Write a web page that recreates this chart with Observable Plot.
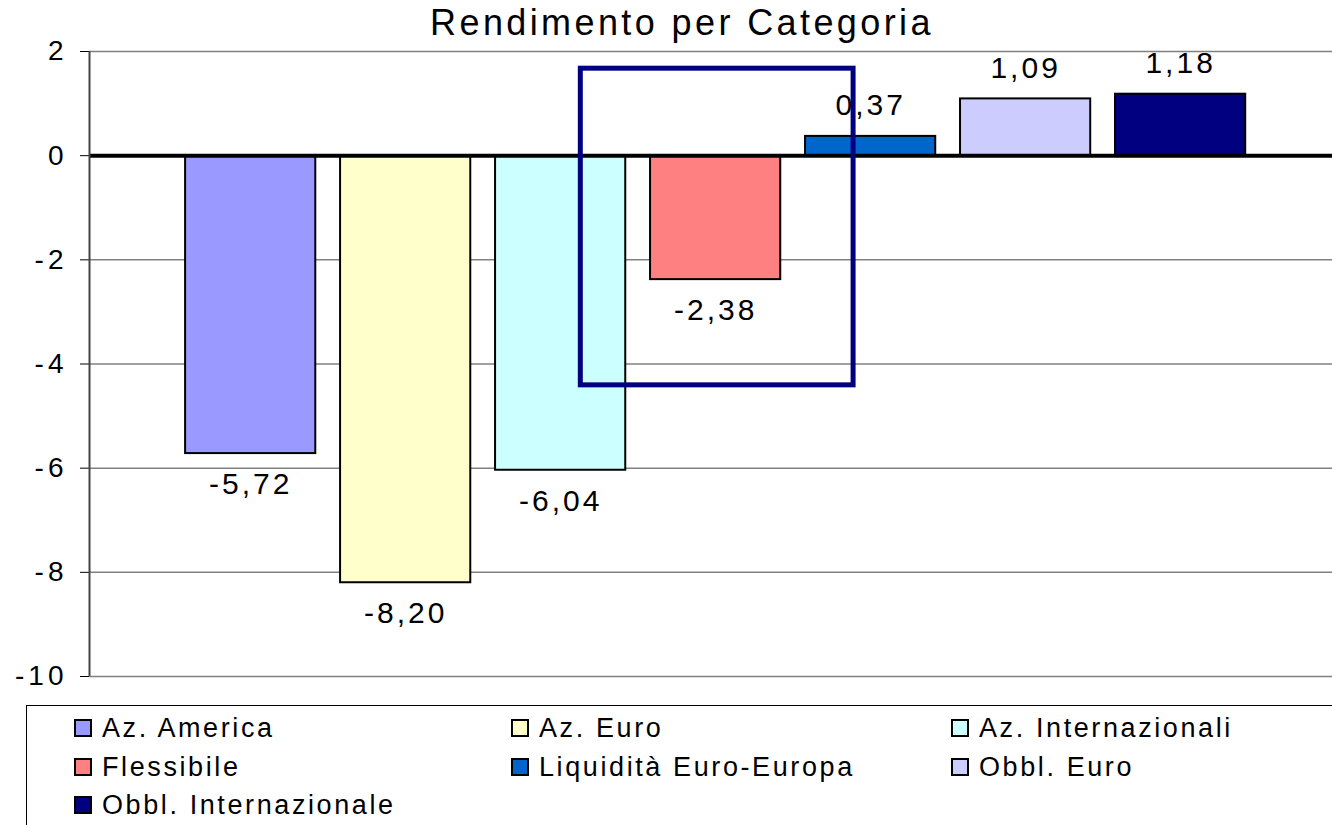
<!DOCTYPE html>
<html>
<head>
<meta charset="utf-8">
<script src="https://cdn.jsdelivr.net/npm/d3@7"></script>
<script src="https://cdn.jsdelivr.net/npm/@observablehq/plot@0.6"></script>
<style>
  html, body { margin: 0; padding: 0; background: #fff; }
  #wrap { position: relative; width: 1332px; height: 825px; overflow: hidden; font-family: "Liberation Sans", Arial, sans-serif; color: #000; }
  #title { position: absolute; top: 5px; left: 0; width: 1364px; text-align: center; font-size: 36px; line-height: 36px; letter-spacing: 3.4px; white-space: nowrap; }
  #chart { position: absolute; top: 0; left: 0; }
  #chart svg [aria-label^="y-axis"] text { letter-spacing: 4px; }
  #legend { position: absolute; left: 26px; top: 705px; width: 1330px; height: 140px; border: 1.5px solid #000; box-sizing: border-box; }
  .item { position: absolute; display: flex; align-items: center; font-size: 27px; letter-spacing: 2.6px; white-space: nowrap; height: 30px; }
  .sw { width: 14px; height: 14px; border: 2px solid #000; margin-right: 10px; flex: none; }
</style>
</head>
<body>
<div id="wrap">
  <div id="chart"></div>
  <div id="title">Rendimento per Categoria</div>
  <div id="legend"></div>
</div>
<script>
const categories = ["Az. America", "Az. Euro", "Az. Internazionali", "Flessibile", "Liquidità Euro-Europa", "Obbl. Euro", "Obbl. Internazionale"];
const values = [-5.72, -8.20, -6.04, -2.38, 0.37, 1.09, 1.18];
const colors = ["#9999FF", "#FFFFCC", "#CCFFFF", "#FF8080", "#0066CC", "#CCCCFF", "#000080"];
const yTicks = [2, 0, -2, -4, -6, -8, -10];
const highlight = [{x1: 2.13, x2: 3.89, y1: -4.41, y2: 1.67}];

const data = categories.map((c, i) => ({cat: c, i, value: values[i], color: colors[i]}));
const fmt = v => v.toFixed(2).replace(".", ",");
const xDomain = [-1.04, 6.98];
const half = 0.42;

const chart = Plot.plot({
  width: 1332,
  height: 700,
  marginTop: 51,
  marginBottom: 24,
  marginLeft: 89,
  marginRight: 0,
  style: {fontFamily: "Liberation Sans, Arial, sans-serif", fontSize: "28px", letterSpacing: "3px", color: "#000", background: "transparent"},
  x: {type: "linear", domain: xDomain, axis: null},
  y: {domain: [-10, 2], ticks: yTicks, tickFormat: d => String(d), tickSize: 9, tickPadding: 13, label: null},
  marks: [
    Plot.ruleY(yTicks, {stroke: "#808080", strokeWidth: 1.5}),
    Plot.rectY(data, {x1: d => d.i - half, x2: d => d.i + half, y1: 0, y2: "value", fill: "color", stroke: "#000", strokeWidth: 2}),
    Plot.ruleY([0], {stroke: "#000", strokeWidth: 4}),
    Plot.ruleX([xDomain[0]], {y1: -10, y2: 2, stroke: "#444", strokeWidth: 2}),
    Plot.rect(highlight, {x1: "x1", x2: "x2", y1: "y1", y2: "y2", fill: "none", stroke: "#000080", strokeWidth: 5}),
    Plot.text(data.filter(d => d.value < 0), {x: "i", y: "value", text: d => fmt(d.value), dy: 31, fontSize: 30, fill: "#000"}),
    Plot.text(data.filter(d => d.value >= 0), {x: "i", y: "value", text: d => fmt(d.value), dy: -31, fontSize: 30, fill: "#000"})
  ]
});
document.getElementById("chart").appendChild(chart);

const legend = document.getElementById("legend");
const colX = [47, 484, 924];
const rowY = [7, 46, 84];
categories.forEach((c, i) => {
  const el = document.createElement("div");
  el.className = "item";
  el.style.left = colX[i % 3] + "px";
  el.style.top = rowY[Math.floor(i / 3)] + "px";
  const sw = document.createElement("span");
  sw.className = "sw";
  sw.style.background = colors[i];
  const tx = document.createElement("span");
  tx.textContent = c;
  el.appendChild(sw);
  el.appendChild(tx);
  legend.appendChild(el);
});
</script>
</body>
</html>
